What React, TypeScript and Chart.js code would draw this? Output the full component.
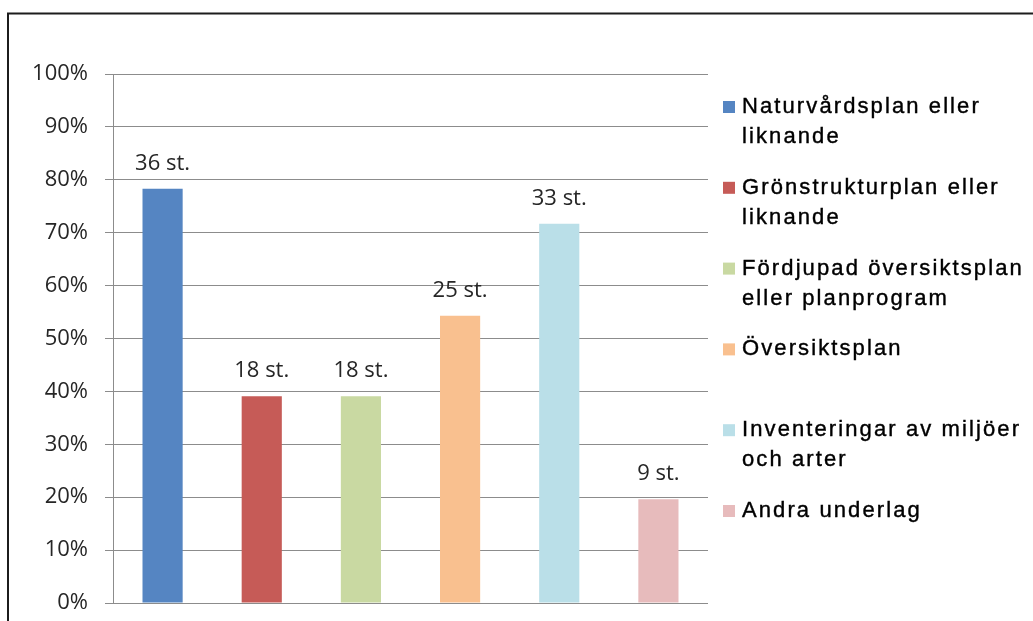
import React, { useEffect, useRef } from "react";
import { Chart, registerables } from "chart.js";

Chart.register(...registerables);

const categories = [
  "Naturvårdsplan eller liknande",
  "Grönstrukturplan eller liknande",
  "Fördjupad översiktsplan eller planprogram",
  "Översiktsplan",
  "Inventeringar av miljöer och arter",
  "Andra underlag",
];
const legendLines = [
  ["Naturvårdsplan eller", "liknande"],
  ["Grönstrukturplan eller", "liknande"],
  ["Fördjupad översiktsplan", "eller planprogram"],
  ["Översiktsplan"],
  ["Inventeringar av miljöer", "och arter"],
  ["Andra underlag"],
];
const percentValues = [78.3, 39.1, 39.1, 54.3, 71.7, 19.6];
const countLabels = ["36 st.", "18 st.", "18 st.", "25 st.", "33 st.", "9 st."];
const barColors = ["#5585C2", "#C65B57", "#C9D9A2", "#F9C08F", "#BADFE8", "#E7BBBC"];
const yMin = 0;
const yMax = 100;
const yStep = 10;

const decorPlugin = {
  id: "decor",
  beforeDraw(chart: any) {
    const ctx = chart.ctx;
    ctx.save();
    ctx.fillStyle = "#ffffff";
    ctx.fillRect(0, 0, chart.width, chart.height);
    ctx.strokeStyle = "#1c1c1c";
    ctx.lineWidth = 2;
    ctx.strokeRect(8, 13.5, chart.width + 50, chart.height + 50);
    ctx.restore();
  },
  afterDatasetsDraw(chart: any) {
    const ctx = chart.ctx;
    const meta = chart.getDatasetMeta(0);
    ctx.save();
    ctx.font = "22px 'Open Sans'";
    ctx.fillStyle = "#262626";
    ctx.textAlign = "center";
    ctx.textBaseline = "alphabetic";
    meta.data.forEach((bar: any, i: number) => {
      ctx.fillText(countLabels[i], bar.x, bar.y - 19);
    });
    ctx.restore();
  },
  afterDraw(chart: any) {
    const ctx = chart.ctx;
    const area = chart.chartArea;
    const spacing = 2.1;
    ctx.save();
    ctx.font = "22px 'Liberation Sans', Arial, sans-serif";
    ctx.textBaseline = "alphabetic";
    ctx.textAlign = "left";
    ctx.lineWidth = 0.4;
    ctx.strokeStyle = "#000000";
    legendLines.forEach((lines, i) => {
      const baseY = area.top + 39 + i * 80.8;
      ctx.fillStyle = barColors[i];
      ctx.fillRect(area.right + 15, baseY - 12, 12, 12);
      ctx.fillStyle = "#000000";
      lines.forEach((line, j) => {
        let x = area.right + 34;
        const y = baseY + j * 30;
        for (const ch of line) {
          ctx.fillText(ch, x, y);
          ctx.strokeText(ch, x, y);
          x += ctx.measureText(ch).width + spacing;
        }
      });
    });
    ctx.restore();
  },
};

export default function App() {
  const canvasRef = useRef<HTMLCanvasElement | null>(null);

  useEffect(() => {
    if (!canvasRef.current) return;
    const chart = new Chart(canvasRef.current, {
      type: "bar",
      data: {
        labels: categories,
        datasets: [
          {
            data: percentValues,
            backgroundColor: barColors,
            borderWidth: 0,
            barPercentage: 1,
            categoryPercentage: 0.405,
          },
        ],
      },
      options: {
        responsive: false,
        animation: false,
        layout: { padding: { left: 0, top: 74, right: 325, bottom: 18 } },
        plugins: {
          legend: { display: false },
          tooltip: { enabled: false },
        },
        scales: {
          x: { display: false },
          y: {
            min: yMin,
            max: yMax,
            ticks: {
              stepSize: yStep,
              callback: (v: any) => v + "%",
              color: "#262626",
              font: { family: "'Open Sans'", size: 22 },
              padding: 17,
            },
            grid: { color: "#8c8c8c", lineWidth: 1, tickLength: 8, drawTicks: true },
            border: { color: "#8c8c8c", width: 1 },
            afterFit: (scale: any) => {
              scale.width = 113;
              scale.paddingTop = 0;
              scale.paddingBottom = 0;
            },
          },
        },
      },
      plugins: [decorPlugin],
    } as any);
    return () => chart.destroy();
  }, []);

  return (
    <div style={{ position: "absolute", left: 0, top: 0, width: 1033, height: 621 }}>
      <canvas ref={canvasRef} width={1033} height={621} style={{ display: "block" }} />
    </div>
  );
}
